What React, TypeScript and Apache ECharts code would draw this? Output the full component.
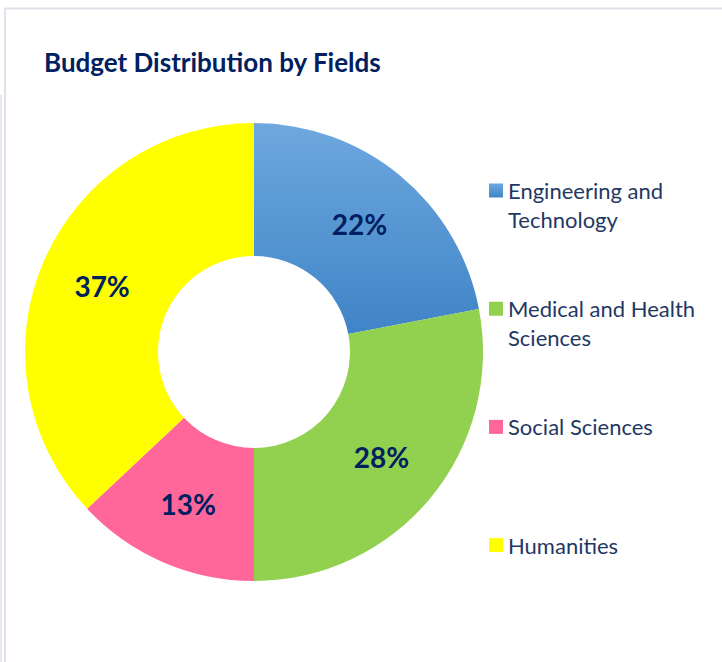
import React, { useEffect, useRef } from "react";
import * as echarts from "echarts";

const categories = [
  "Engineering and\nTechnology",
  "Medical and Health\nSciences",
  "Social Sciences",
  "Humanities",
];
const shares = [22, 28, 13, 37];
const colors = ["#4A8CD0", "#92D050", "#FF6699", "#FFFF00"];
const titleText = "Budget Distribution by Fields";

export default function App() {
  const ref = useRef<HTMLDivElement>(null);
  useEffect(() => {
    if (!ref.current) return;
    const chart = echarts.init(ref.current, null, { renderer: "svg" });
    const blueGrad = new echarts.graphic.LinearGradient(0, 0, 0, 1, [
      { offset: 0, color: "#6EA8DE" },
      { offset: 1, color: "#3F84C7" },
    ]);
    const data = categories.map((name, i) => ({
      name,
      value: shares[i],
      itemStyle: { color: i === 0 ? blueGrad : colors[i] },
    }));
    chart.setOption({
      animation: false,
      backgroundColor: "#ffffff",
      title: {
        text: titleText,
        left: 39,
        top: 44,
        textStyle: {
          fontFamily: "Lato",
          fontWeight: "bold",
          fontSize: 26,
          color: "#002060",
        },
      },
      legend: {
        orient: "vertical",
        left: 489,
        top: 147,
        padding: 0,
        itemWidth: 14,
        itemHeight: 14,
        itemGap: 31.2,
        icon: "rect",
        selectedMode: false,
        data: categories,
        formatter: (name: string) =>
          name.indexOf("\n") >= 0 ? "\n" + name : "\n" + name + "\n",
        textStyle: {
          fontFamily: "Lato",
          fontSize: 22,
          lineHeight: 29,
          color: "#1F3864",
          backgroundColor: "rgba(255,255,255,0)",
        },
      },
      graphic: [
        {
          type: "line",
          shape: { x1: 5, y1: 8.5, x2: 722, y2: 8.5 },
          style: { stroke: "#DFE3E9", lineWidth: 2 },
          silent: true,
        },
        {
          type: "line",
          shape: { x1: 5, y1: 8, x2: 5, y2: 662 },
          style: { stroke: "#DFE3E9", lineWidth: 2 },
          silent: true,
        },
        {
          type: "line",
          shape: { x1: 1, y1: 95, x2: 1, y2: 662 },
          style: { stroke: "#E6E9EE", lineWidth: 2 },
          silent: true,
        },
      ],
      series: [
        {
          type: "pie",
          center: [254, 352],
          radius: [96, 229],
          startAngle: 90,
          clockwise: true,
          avoidLabelOverlap: false,
          label: {
            show: true,
            position: "inside",
            formatter: "{c}%",
            fontFamily: "Lato",
            fontWeight: "bold",
            fontSize: 28,
            color: "#002060",
          },
          labelLine: { show: false },
          emphasis: { disabled: true },
          itemStyle: { borderWidth: 0 },
          data,
        },
      ],
    });
    return () => chart.dispose();
  }, []);
  return (
    <div
      ref={ref}
      style={{ position: "absolute", left: 0, top: 0, width: 722, height: 662 }}
    />
  );
}
